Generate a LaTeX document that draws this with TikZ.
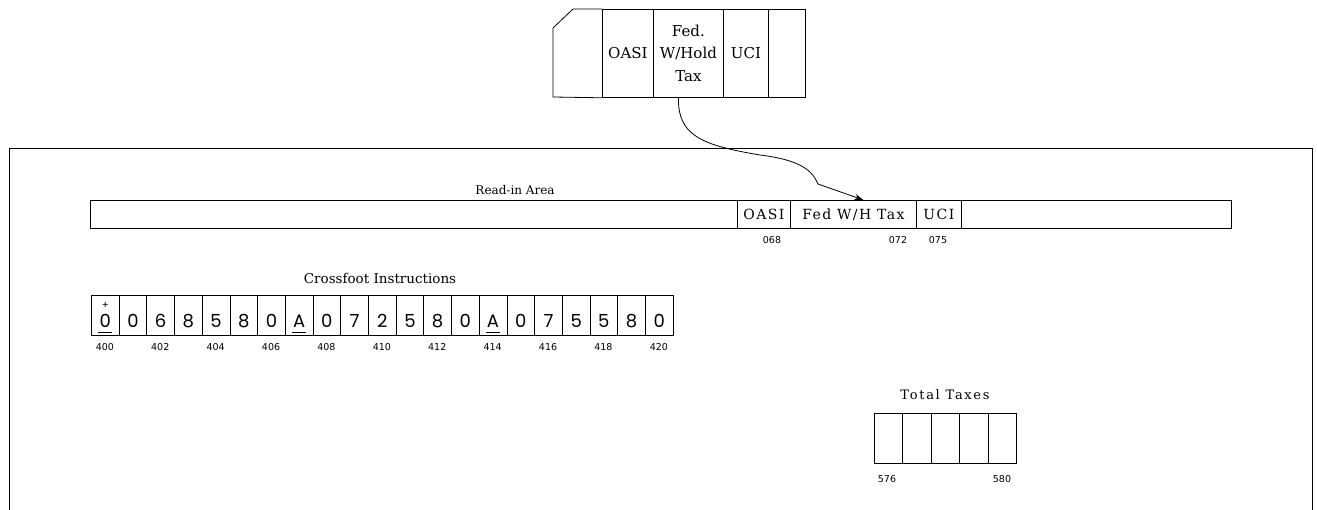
\documentclass[tikz,border=0pt]{standalone}
\usepackage{fontspec}
\newfontfamily\digitfont{Poppins}
\newfontfamily\numfont{DejaVu Sans}
\newfontfamily\serfont{DejaVu Serif}
\usetikzlibrary{arrows.meta}
\begin{document}
\begin{tikzpicture}[x=1pt,y=-1pt,line width=0.8pt,
  cardcell/.style={draw,rectangle,inner sep=0pt,minimum height=88pt,anchor=north west,font=\serfont\fontsize{15}{22.5}\selectfont,align=center},
  readcell/.style={draw,rectangle,inner sep=0pt,minimum height=28pt,anchor=north west,font=\serfont\fontsize{14}{14}\selectfont\addfontfeature{LetterSpace=10}},
  instcell/.style={draw,rectangle,inner sep=0pt,minimum width=27.7pt,minimum height=40pt,anchor=north west,font=\digitfont\fontsize{18}{20}\selectfont,text height=26pt,text depth=2pt},
  totcell/.style={draw,rectangle,inner sep=0pt,minimum width=28.4pt,minimum height=50pt,anchor=north west},
  title/.style={inner sep=0pt,font=\serfont\fontsize{12.5}{14}\selectfont},
  addr/.style={inner sep=0pt,font=\numfont\fontsize{9.5}{10}\selectfont},
  arrow/.style={-{Stealth[length=9pt,width=6pt]},line width=0.8pt}]
\useasboundingbox (0,0) rectangle (1317,510);
% outer frame
\draw (9,515) -- (9,148) -- (1312,148) -- (1312,515);
% card
\node[cardcell,minimum width=51pt] (coasi) at (602,9) {OASI};
\node[cardcell,minimum width=70pt] (cfed) at (653,9) {Fed.\\W/Hold\\Tax};
\node[cardcell,minimum width=45pt] (cuci) at (723,9) {UCI};
\node[cardcell,minimum width=37pt] (cblank) at (768,9) {};
\draw (coasi.north west) -- (573,9) -- (553,28) -- (553,97) -- (coasi.south west);
% read-in area
\node[readcell,minimum width=647pt] (ra0) at (90,200) {};
\node[readcell,minimum width=53pt] (raoasi) at (737,200) {OASI};
\node[readcell,minimum width=126pt] (rafed) at (790,200) {Fed W/H Tax};
\node[readcell,minimum width=45pt] (rauci) at (916,200) {UCI};
\node[readcell,minimum width=270pt] (ra4) at (961,200) {};
\node[title,font=\serfont\fontsize{12}{14}\selectfont] (ratitle) at (515,190) {Read-in Area};
\node[addr] (a068) at (772,240) {068};
\node[addr] (a072) at (898,240) {072};
\node[addr] (a075) at (938,240) {075};
% arrow
\draw[arrow] ([xshift=-10pt]cfed.south) .. controls (678,135) and (700,145) .. (760,155)
  .. controls (800,160) and (812,170) .. (818,184) -- ([xshift=10pt]rafed.north);
% crossfoot instructions
\node[title,font=\serfont\fontsize{13.5}{14}\selectfont] (cftitle) at (380,278) {Crossfoot Instructions};
\foreach \d [count=\i from 0] in {0,0,6,8,5,8,0,A,0,7,2,5,8,0,A,0,7,5,5,8,0}{
  \node[instcell] (i\i) at ({91+27.7*\i},295) {\d};
}
\node[inner sep=0pt,font=\digitfont\fontsize{10}{10}\selectfont] (plus) at ([yshift=-10pt]i0.north) {+};
\foreach \k in {0,7,14}{
  \draw[line width=0.9pt] ([xshift=-7pt,yshift=3pt]i\k.south) -- ([xshift=7pt,yshift=3pt]i\k.south);
}
\foreach \k [evaluate=\k as \a using int(400+2*\k)] in {0,...,10}{
  \node[addr] (l\k) at ({91+27.7*(2*\k+0.5)},347) {\a};
}
% total taxes
\node[title,font=\serfont\fontsize{13}{14}\selectfont\addfontfeature{LetterSpace=13}] (tttitle) at (945,395) {Total Taxes};
\foreach \i in {0,...,4}{
  \node[totcell] (t\i) at ({874+28.4*\i},413) {};
}
\node[addr] (a576) at (887,479) {576};
\node[addr] (a580) at (1002,479) {580};
\end{tikzpicture}
\end{document}
